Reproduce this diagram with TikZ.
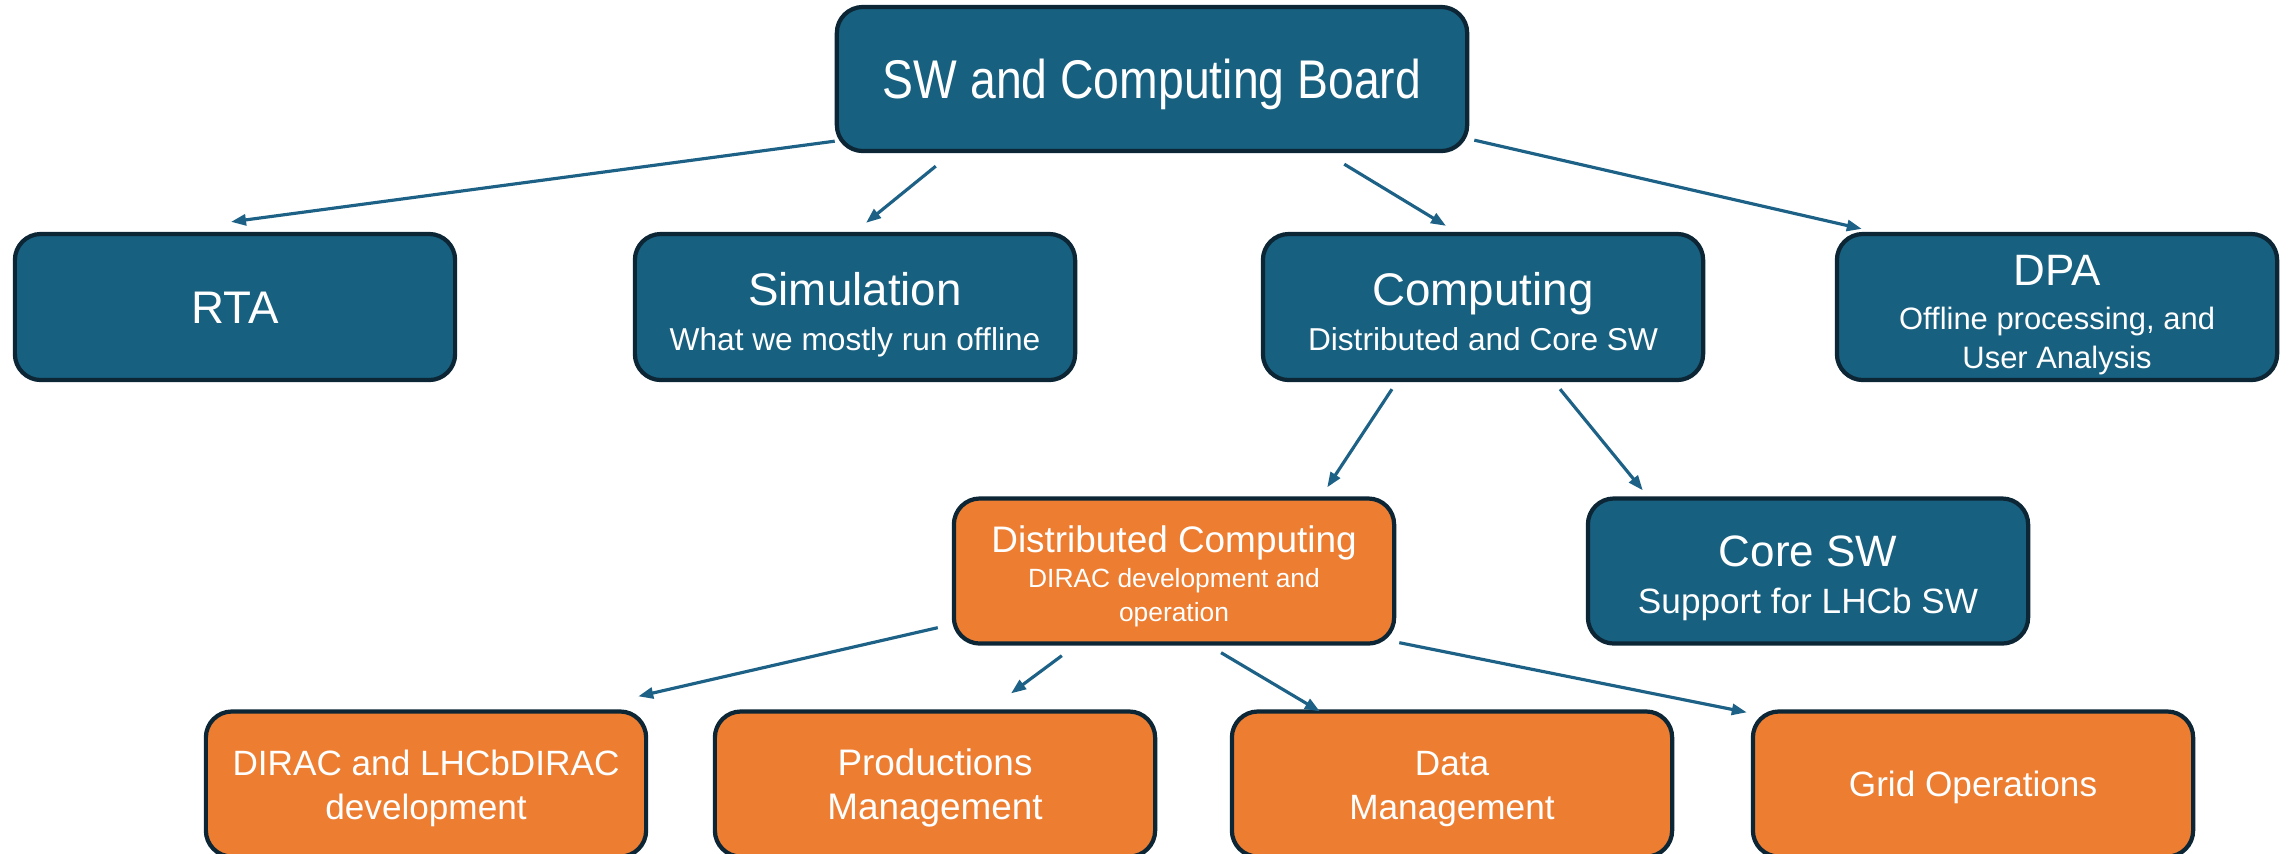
\documentclass[tikz,border=0pt]{standalone}
\usepackage{fontspec}
\setmainfont{Liberation Sans}
\newfontfamily\narrowfont[FakeStretch=0.85]{Liberation Sans}
\usetikzlibrary{arrows.meta}
\definecolor{boardblue}{HTML}{17607F}
\definecolor{boxline}{HTML}{0C2636}
\definecolor{dcorange}{HTML}{ED7D31}
\definecolor{arrowblue}{HTML}{1D6286}

\begin{document}
\begin{tikzpicture}[x=0.01cm,y=-0.01cm,
  blue box/.style={draw=boxline,line width=1.2pt,fill=boardblue,rounded corners=0.26cm,text=white,align=center,minimum width=4.4cm,minimum height=1.46cm,inner sep=0pt},
  orange box/.style={blue box,fill=dcorange},
  arr/.style={arrowblue,line width=0.9pt,-{Triangle[length=0.15cm,width=0.11cm]}}]

\useasboundingbox (0,0) rectangle (2295,853);

\node[blue box,minimum width=6.3cm,minimum height=1.44cm,text height=11.1pt,text depth=0pt] (board) at (1152,79) {\narrowfont\fontsize{15.5}{18}\selectfont SW and Computing Board};

\node[blue box,text height=9.3pt,text depth=0pt] (rta) at (235,307) {\fontsize{13}{15}\selectfont RTA};
\node[blue box,font=\fontsize{9}{12}\selectfont,text height=25pt,text depth=0pt] (sim) at (855,307) {\fontsize{13}{15}\selectfont Simulation\\[0.9pt]What we mostly run offline};
\node[blue box,font=\fontsize{9}{12}\selectfont,text height=25pt,text depth=0pt] (comp) at (1483,307) {\fontsize{13}{15}\selectfont Computing\\[0.9pt]Distributed and Core SW};
\node[blue box,font=\fontsize{8.8}{11}\selectfont,text height=34.8pt,text depth=0pt] (dpa) at (2057,307) {\fontsize{12.5}{14}\selectfont DPA\\[1.5pt]Offline processing, and\\User Analysis};

\node[orange box,minimum height=1.45cm,font=\fontsize{7.5}{9.6}\selectfont,text height=28.8pt,text depth=0pt] (dist) at (1174,571) {\fontsize{10.5}{12}\selectfont Distributed Computing\\[0.4pt]DIRAC development and\\operation};
\node[blue box,minimum height=1.45cm,font=\fontsize{10}{12}\selectfont,text height=24.2pt,text depth=0pt] (core) at (1808,571) {\fontsize{12.5}{14}\selectfont Core SW\\[1.4pt]Support for LHCb SW};

\node[orange box,minimum height=1.45cm,font=\fontsize{10}{12.4}\selectfont,text height=20pt,text depth=0pt] (dirac) at (426,784) {DIRAC and LHCbDIRAC\\development};
\node[orange box,minimum height=1.45cm,font=\fontsize{10.5}{12.4}\selectfont,text height=20pt,text depth=0pt] (prod) at (935,784) {Productions\\Management};
\node[orange box,minimum height=1.45cm,font=\fontsize{10}{12.4}\selectfont,text height=20pt,text depth=0pt] (data) at (1452,784) {Data\\Management};
\node[orange box,minimum height=1.45cm,font=\fontsize{10}{12.4}\selectfont,text height=7.2pt,text depth=0pt] (grid) at (1973,784) {Grid Operations};

% board to second row
\draw[arr] ([yshift=0.12cm]board.south west) -- ([xshift=-0.04cm,yshift=0.10cm]rta.north);
\draw[arr] ([xshift=1.01cm,yshift=-0.13cm]board.south west) -- ([xshift=0.11cm,yshift=0.09cm]sim.north);
\draw[arr] ([xshift=-1.25cm,yshift=-0.11cm]board.south east) -- ([xshift=-0.37cm,yshift=0.06cm]comp.north);
\draw[arr] ([xshift=0.05cm,yshift=0.13cm]board.south east) -- ([xshift=0.27cm,yshift=0.03cm]dpa.north west);

% computing
\draw[arr] ([xshift=-0.91cm,yshift=-0.07cm]comp.south) -- ([xshift=-0.69cm,yshift=0.09cm]dist.north east);
\draw[arr] ([xshift=0.77cm,yshift=-0.07cm]comp.south) -- ([xshift=0.57cm,yshift=0.06cm]core.north west);

% distributed computing
\draw[arr] ([xshift=-0.14cm,yshift=0.18cm]dist.south west) -- ([xshift=-0.10cm,yshift=0.13cm]dirac.north east);
\draw[arr] ([xshift=1.10cm,yshift=-0.10cm]dist.south west) -- ([xshift=0.76cm,yshift=0.16cm]prod.north);
\draw[arr] ([xshift=0.47cm,yshift=-0.07cm]dist.south) -- ([xshift=0.90cm,yshift=-0.02cm]data.north west);
\draw[arr] ([xshift=0.03cm,yshift=0.03cm]dist.south east) -- ([xshift=-0.04cm,yshift=-0.03cm]grid.north west);

\end{tikzpicture}
\end{document}
